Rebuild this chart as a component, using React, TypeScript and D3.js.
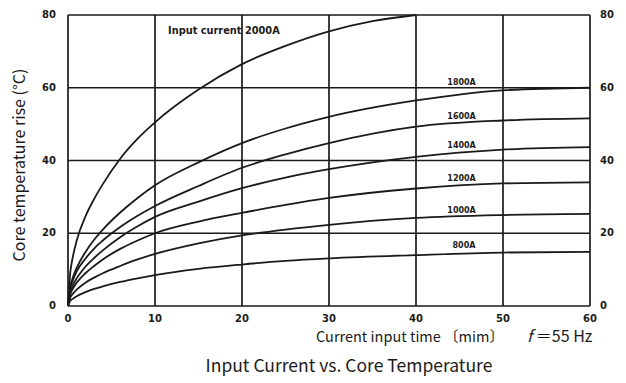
import React from "react";
import * as d3 from "d3";

// current input time (min)
const times2000 = [0, 0.25, 0.5, 1, 2, 3, 4, 6, 8, 10, 15, 20, 25, 30, 35, 40];
const temp2000 = [0, 9, 12.8, 18, 24.6, 29.4, 33.5, 40.5, 46, 50.5, 59.5, 66.5, 71.5, 75.5, 78.3, 80];

const times = [0, 0.25, 0.5, 1, 2, 3, 4, 6, 8, 10, 15, 20, 25, 30, 40, 50, 60];
const temp1800 = [0, 5.2, 7.4, 10.5, 14.8, 18.2, 21, 25.7, 29.7, 33.2, 39.5, 44.8, 48.8, 52, 56.5, 59.3, 60];
const temp1600 = [0, 4.8, 6.7, 9.5, 13, 15.8, 18, 21.7, 24.8, 27.5, 33, 38, 41.7, 44.8, 49.3, 51, 51.6];
const temp1400 = [0, 3.8, 5.4, 7.6, 10.8, 13.2, 15.3, 18.9, 21.9, 24.5, 28.7, 32.4, 35.3, 37.6, 41, 43, 43.7];
const temp1200 = [0, 3.2, 4.5, 6.4, 9, 11, 12.8, 15.7, 18, 20, 23.2, 25.6, 27.8, 29.7, 32.3, 33.7, 34];
const temp1000 = [0, 2.3, 3.2, 4.5, 6.4, 7.8, 9, 11, 12.8, 14.3, 17.2, 19.4, 21, 22.3, 24.2, 25, 25.3];
const temp800 = [0, 1.4, 1.9, 2.7, 3.8, 4.7, 5.4, 6.6, 7.6, 8.5, 10.2, 11.4, 12.4, 13.1, 14, 14.7, 14.9];

const seriesNames = ["Input current 2000A", "1800A", "1600A", "1400A", "1200A", "1000A", "800A"];
const xTicks = [0, 10, 20, 30, 40, 50, 60];
const yTicks = [0, 20, 40, 60, 80];

// label anchors (time, temp) for each series name
const labelAnchors: [number, number][] = [
  [11.5, 75.5],
  [43.6, 61.5],
  [43.6, 52],
  [43.6, 44],
  [43.6, 35],
  [43.6, 26.2],
  [44.2, 16.5],
];

const W = 626;
const H = 383;

export default function App() {
  const x = d3.scaleLinear().domain([0, 60]).range([68, 590]);
  const y = d3.scaleLinear().domain([0, 80]).range([306, 15]);

  const line = d3
    .line<[number, number]>()
    .x((d) => x(d[0]))
    .y((d) => y(d[1]))
    .curve(d3.curveMonotoneX);

  const series: [number, number][][] = [
    times2000.map((t, i) => [t, temp2000[i]]),
    ...[temp1800, temp1600, temp1400, temp1200, temp1000, temp800].map((vals) =>
      times.map((t, i) => [t, vals[i]] as [number, number])
    ),
  ];

  const ink = "#1c1a18";
  const tickFont = "'DejaVu Sans', sans-serif";
  const textFont = "'Noto Sans CJK JP', 'Noto Sans', sans-serif";

  return (
    <svg
      width={W}
      height={H}
      style={{ position: "absolute", left: 0, top: 0, background: "#fff" }}
    >
      {/* grid */}
      {xTicks.map((t) => (
        <line key={"gx" + t} x1={x(t)} x2={x(t)} y1={y(0)} y2={y(80)} stroke={ink} strokeWidth={1.7} />
      ))}
      {yTicks.map((v) => (
        <line key={"gy" + v} x1={x(0)} x2={x(60)} y1={y(v)} y2={y(v)} stroke={ink} strokeWidth={1.7} />
      ))}

      {/* curves */}
      {series.map((s, i) => (
        <path key={"s" + i} d={line(s) || ""} fill="none" stroke={ink} strokeWidth={1.8} />
      ))}

      {/* series labels */}
      {seriesNames.map((n, i) => (
        <text
          key={"l" + i}
          x={x(labelAnchors[i][0])}
          y={y(labelAnchors[i][1])}
          fontFamily={tickFont}
          fontWeight="bold"
          fontSize={i === 0 ? 9.8 : 8}
          fill={ink}
          dominantBaseline="middle"
        >
          {n}
        </text>
      ))}

      {/* left ticks */}
      {yTicks.map((v) => (
        <text
          key={"ly" + v}
          x={56}
          y={y(v)}
          textAnchor="end"
          dominantBaseline="middle"
          fontFamily={tickFont}
          fontWeight="bold"
          fontSize={10}
          fill={ink}
        >
          {v}
        </text>
      ))}
      {/* right ticks */}
      {yTicks.map((v) => (
        <text
          key={"ry" + v}
          x={600}
          y={y(v)}
          dominantBaseline="middle"
          fontFamily={tickFont}
          fontWeight="bold"
          fontSize={10}
          fill={ink}
        >
          {v}
        </text>
      ))}
      {/* bottom ticks */}
      {xTicks.map((t) => (
        <text
          key={"bx" + t}
          x={x(t)}
          y={319}
          textAnchor="middle"
          dominantBaseline="middle"
          fontFamily={tickFont}
          fontWeight="bold"
          fontSize={10}
          fill={ink}
        >
          {t}
        </text>
      ))}

      {/* axis titles */}
      <text
        transform={`translate(21,165) rotate(-90)`}
        textAnchor="middle"
        dominantBaseline="middle"
        fontFamily={textFont}
        fontSize={16}
        fill={ink}
      >
        Core temperature rise (°C)
      </text>
      <text
        x={316}
        y={338}
        dominantBaseline="middle"
        fontFamily={textFont}
        fontSize={14.5}
        fill={ink}
      >
        Current input time 〔mim〕
      </text>
      <text x={527} y={338} dominantBaseline="middle" fontFamily={textFont} fontSize={16} fill={ink}>
        <tspan fontStyle="italic">f</tspan> ＝55 Hz
      </text>
      <text
        x={349}
        y={367}
        textAnchor="middle"
        dominantBaseline="middle"
        fontFamily={textFont}
        fontSize={17.5}
        fill={ink}
      >
        Input Current vs. Core Temperature
      </text>
    </svg>
  );
}
